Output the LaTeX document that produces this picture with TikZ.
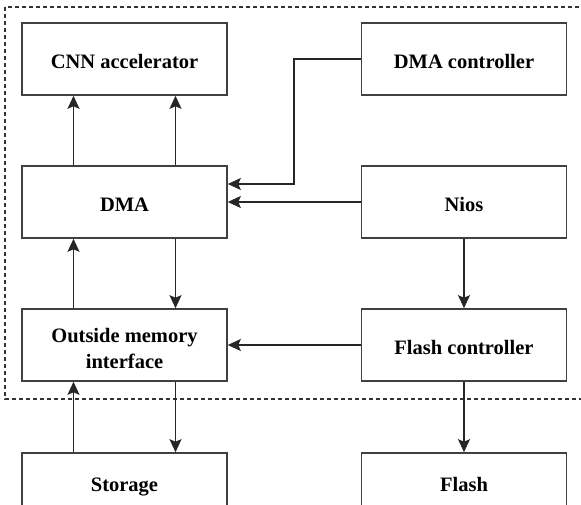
\documentclass[tikz,border=0pt]{standalone}
\usepackage{fontspec}
\setmainfont{Liberation Serif}
\usetikzlibrary{arrows.meta}
\begin{document}
\begin{tikzpicture}[x=1pt,y=-1pt,
  block/.style={draw=black!75, line width=1.6pt, fill=white, minimum width=205pt,
    minimum height=72pt, inner sep=0pt, align=center, text height=20pt, text depth=1pt,
    font=\fontsize{20.5}{23}\selectfont\bfseries},
  cutblock/.style={block, minimum height=58pt},
  link/.style={draw=black!85, line width=1.6pt, -{Stealth[length=13pt,width=12pt,inset=2.5pt]}}]
\useasboundingbox (0,0) rectangle (581,505);
\begin{scope}
\clip (0,0) rectangle (581,505);
% subsystem boundary
\draw[line width=1.2pt, dash pattern=on 4pt off 3pt, black!80] (5,7) rectangle (600,399);

% blocks
\node[block] (cnn)  at (124.5,59)  {CNN accelerator};
\node[block] (dmac) at (464,59)    {DMA controller};
\node[block] (dma)  at (124.5,202) {DMA};
\node[block] (nios) at (464,202)   {Nios};
\node[block, text height=0pt, text depth=0pt] (omi) at (124.5,345)
  {\raisebox{-11pt}[0pt][0pt]{\begin{tabular}{@{}c@{}}Outside memory\\[3pt]interface\end{tabular}}};
\node[block] (flc)  at (464,345)   {Flash controller};
\node[cutblock] (sto) at (124.5,482) {Storage};
\node[cutblock] (fla) at (464,482)   {Flash};

% DMA <-> CNN accelerator
\draw[link] ([xshift=-51pt]dma.north) -- ([xshift=-51pt]cnn.south);
\draw[link] ([xshift=51pt]dma.north) -- ([xshift=51pt]cnn.south);

% DMA <-> outside memory interface
\draw[link] ([xshift=-51pt]omi.north) -- ([xshift=-51pt]dma.south);
\draw[link] ([xshift=51pt]dma.south) -- ([xshift=51pt]omi.north);

% outside memory interface <-> storage
\draw[link] ([xshift=-51pt]sto.north) -- ([xshift=-51pt]omi.south);
\draw[link] ([xshift=51pt]omi.south) -- ([xshift=51pt]sto.north);

% control paths
\coordinate (bend) at (294,59);
\draw[link] (dmac.west) -- (bend) |- ([yshift=18pt]dma.east);
\draw[link] (nios.west) -- (dma.east);
\draw[link] (nios.south) -- (flc.north);
\draw[link] (flc.west) -- (omi.east);
\draw[link] (flc.south) -- (fla.north);
\end{scope}
\end{tikzpicture}
\end{document}
